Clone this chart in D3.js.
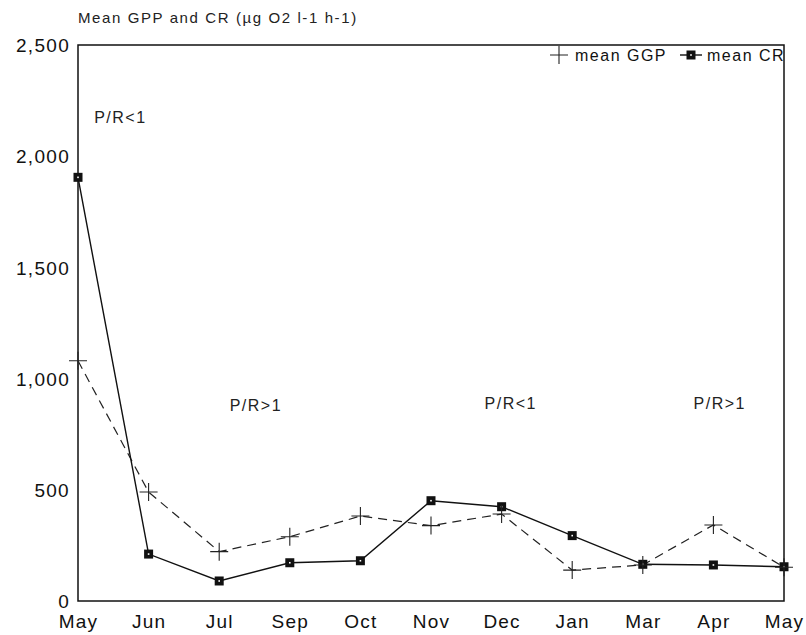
<!DOCTYPE html>
<html>
<head>
	<title></title>
	<meta charset="utf-8">
	<script src="https://d3js.org/d3.v7.min.js"></script>
	<style>
		body { margin: 0; background: #fff; }
		svg { font-family: "Liberation Sans", Arial, sans-serif; }
	</style>
</head>
<body>
<div id="my_dataviz"></div>
<script>

// data
var months = ["May", "Jun", "Jul", "Sep", "Oct", "Nov", "Dec", "Jan", "Mar", "Apr", "May"];
var meanGGP = [1080, 490, 222, 289, 382, 339, 391, 139, 162, 342, 152];
var meanCR = [1905, 211, 90, 172, 181, 451, 424, 294, 165, 162, 154];
var yTicks = [0, 500, 1000, 1500, 2000, 2500];
var legendNames = ["mean GGP", "mean CR"];
var prLabels = ["P/R<1", "P/R>1", "P/R<1", "P/R>1"];

var margin = {top: 45, right: 22, bottom: 34, left: 78},
    width = 806 - margin.left - margin.right,
    height = 635 - margin.top - margin.bottom;

var svg = d3.select("#my_dataviz")
  .append("svg")
    .attr("width", width + margin.left + margin.right)
    .attr("height", height + margin.top + margin.bottom)
  .append("g")
    .attr("transform", "translate(" + margin.left + "," + margin.top + ")");

// x is by position, May appears twice
var x = d3.scalePoint()
  .domain(d3.range(months.length))
  .range([0, width])
  .padding(0);

var y = d3.scaleLinear()
  .domain([0, 2500])
  .range([height, 0]);

// title
svg.append("text")
  .attr("x", 0)
  .attr("y", -22)
  .style("font-size", "15px")
  .style("letter-spacing", "1.6px")
  .attr("fill", "#222")
  .text("Mean GPP and CR (\u00b5g O2 l-1 h-1)");

// axes
var xAxis = svg.append("g")
  .attr("transform", "translate(0," + height + ")")
  .call(d3.axisBottom(x).tickSize(0).tickPadding(14).tickFormat(function(i) { return months[i]; }));
xAxis.select(".domain").remove();
xAxis.selectAll("text")
  .style("font-size", "19px")
  .style("letter-spacing", "1.2px")
  .attr("fill", "#111");

var yAxis = svg.append("g")
  .call(d3.axisLeft(y).tickValues(yTicks).tickSize(0).tickPadding(8).tickFormat(d3.format(",")));
yAxis.select(".domain").remove();
yAxis.selectAll("text")
  .style("font-size", "19px")
  .style("letter-spacing", "1.3px")
  .attr("dy", "0.35em")
  .attr("fill", "#111");

// plot frame
svg.append("rect")
  .attr("x", 0)
  .attr("y", 0)
  .attr("width", width)
  .attr("height", height)
  .attr("fill", "none")
  .attr("stroke", "#111")
  .attr("stroke-width", 1.5);

// GGP dashed line with plus markers
var line = d3.line()
  .x(function(d, i) { return x(i); })
  .y(function(d) { return y(d); });

svg.append("path")
  .datum(meanGGP)
  .attr("d", line)
  .attr("fill", "none")
  .attr("stroke", "#222")
  .attr("stroke-width", 1.2)
  .attr("stroke-dasharray", "9,6");

function drawPlus(g, cx, cy) {
  g.append("path")
    .attr("d", "M" + (cx - 9) + "," + cy + "H" + (cx + 9) + "M" + cx + "," + (cy - 9) + "V" + (cy + 9))
    .attr("stroke", "#222")
    .attr("stroke-width", 1.1)
    .attr("fill", "none");
}

// CR solid line with square markers
svg.append("path")
  .datum(meanCR)
  .attr("d", line)
  .attr("fill", "none")
  .attr("stroke", "#111")
  .attr("stroke-width", 1.4);

function drawSquare(g, cx, cy) {
  g.append("rect")
    .attr("x", cx - 4.5)
    .attr("y", cy - 4.5)
    .attr("width", 9)
    .attr("height", 9)
    .attr("fill", "#111");
  g.append("rect")
    .attr("x", cx - 0.8)
    .attr("y", cy - 0.8)
    .attr("width", 1.6)
    .attr("height", 1.6)
    .attr("fill", "#fff");
}

meanCR.forEach(function(d, i) { drawSquare(svg, x(i), y(d)); });
meanGGP.forEach(function(d, i) { drawPlus(svg, x(i), y(d)); });

// P/R annotations, placed at fractional month positions
var xi = d3.scaleLinear().domain([0, months.length - 1]).range([0, width]);
var prPos = [[0.6, 2176], [2.52, 881], [6.13, 890], [9.09, 890]];
svg.selectAll(".pr")
  .data(prLabels)
  .enter()
  .append("text")
    .attr("class", "pr")
    .attr("x", function(d, i) { return xi(prPos[i][0]); })
    .attr("y", function(d, i) { return y(prPos[i][1]); })
    .attr("dy", "0.35em")
    .attr("text-anchor", "middle")
    .style("font-size", "16px")
    .style("letter-spacing", "1.5px")
    .attr("fill", "#222")
    .text(function(d) { return d; });

// legend
var legend = svg.append("g")
  .attr("transform", "translate(" + (width - 225) + ",10)");

drawPlus(legend, 0, 0);
legend.append("text")
  .attr("x", 16)
  .attr("y", 0)
  .attr("dy", "0.35em")
  .style("font-size", "16px")
  .style("letter-spacing", "1.5px")
  .attr("fill", "#111")
  .text(legendNames[0]);

legend.append("line")
  .attr("x1", 121)
  .attr("x2", 143)
  .attr("y1", 0)
  .attr("y2", 0)
  .attr("stroke", "#111")
  .attr("stroke-width", 1.4);
drawSquare(legend, 132, 0);
legend.append("text")
  .attr("x", 148)
  .attr("y", 0)
  .attr("dy", "0.35em")
  .style("font-size", "16px")
  .style("letter-spacing", "1.5px")
  .attr("fill", "#111")
  .text(legendNames[1]);

</script>
</body>
</html>
